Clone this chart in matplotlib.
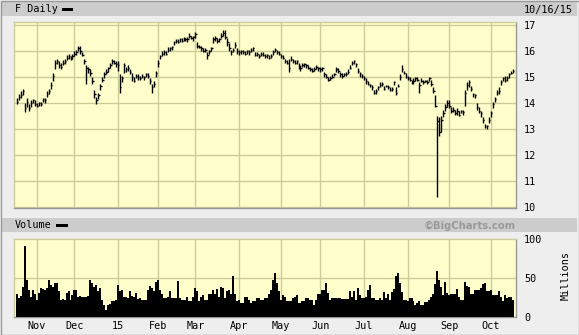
import matplotlib
matplotlib.use("Agg")
import matplotlib.pyplot as plt
import numpy as np
import pandas as pd
from matplotlib.patches import Rectangle

# ---------------- data ----------------
start_date = "2014-10-20"
end_date = "2015-10-16"
holidays = ["2014-11-27", "2014-12-25", "2015-01-01", "2015-01-19", "2015-02-16",
            "2015-04-03", "2015-05-25", "2015-07-03", "2015-09-07"]

month_labels = ["Nov", "Dec", "15", "Feb", "Mar", "Apr", "May", "Jun", "Jul", "Aug", "Sep", "Oct"]
price_ticks = [10, 11, 12, 13, 14, 15, 16, 17]
volume_ticks = [0, 50, 100]

closes = [
    14.05, 14.25, 14.30, 14.45, 13.80, 14.05, 13.80, 14.00, 14.10, 13.95,
    13.90, 14.00, 13.95, 14.15, 14.10, 14.35, 14.45, 14.70, 15.05, 15.55, 15.60, 15.45, 15.40, 15.55, 15.60, 15.75, 15.80, 15.70, 15.80,
    15.90, 15.95, 16.10, 16.00, 15.85, 15.60, 15.35, 15.30, 15.15, 14.85, 14.35, 14.10, 14.30, 14.65, 14.90, 15.10, 15.20, 15.35, 15.45, 15.60, 15.55, 15.50,
    15.45, 14.60, 14.95, 15.45, 15.30, 15.35, 15.20, 15.00, 14.85, 15.05, 15.00, 14.95, 15.05, 15.00, 15.10, 15.05, 14.85, 14.60, 14.75, 15.15,
    15.55, 15.80, 15.90, 15.95, 15.90, 16.05, 16.10, 16.15, 16.35, 16.40, 16.35, 16.45, 16.40, 16.50, 16.45, 16.45, 16.60, 16.50, 16.55,
    16.65, 16.20, 16.15, 16.10, 16.00, 16.05, 15.85, 16.00, 16.10, 16.45, 16.50, 16.40, 16.45, 16.60, 16.70, 16.55, 16.35, 16.10, 15.95, 16.05, 16.25, 16.00,
    15.95, 16.00, 15.95, 15.90, 16.00, 15.95, 16.05, 16.10, 15.85, 15.90, 15.80, 15.90, 15.85, 15.80, 15.85, 15.75, 15.80, 15.95, 16.05, 15.95, 15.90,
    15.80, 15.75, 15.60, 15.55, 15.35, 15.70, 15.60, 15.55, 15.60, 15.40, 15.35, 15.45, 15.50, 15.45, 15.35, 15.30, 15.25, 15.30, 15.40, 15.35,
    15.30, 15.35, 15.10, 15.00, 14.90, 14.95, 15.00, 15.10, 15.30, 15.25, 15.10, 15.05, 15.10, 15.10, 15.20, 15.35, 15.55, 15.60, 15.50, 15.25, 15.10, 15.05,
    14.95, 14.85, 14.75, 14.70, 14.60, 14.40, 14.45, 14.60, 14.70, 14.75, 14.55, 14.65, 14.60, 14.50, 14.55, 14.80, 14.40, 14.65, 15.00, 15.30, 15.15, 15.00,
    14.95, 14.90, 14.85, 14.85, 14.95, 14.90, 14.70, 14.85, 14.80, 14.85, 14.80, 14.95, 14.75, 14.45, 13.90, 13.30, 12.90, 13.35, 13.60, 13.85, 14.00,
    13.90, 13.70, 13.75, 13.60, 13.70, 13.55, 13.70, 13.65, 14.40, 14.70, 14.80, 14.55, 14.35, 14.30, 13.85, 13.70, 13.60, 13.35, 13.10, 13.10, 13.35,
    13.60, 13.95, 14.15, 14.40, 14.45, 14.80, 14.95, 14.90, 14.95, 15.10, 15.15, 15.25,
]

highs = [
    14.20, 14.35, 14.45, 14.55, 14.00, 14.20, 13.95, 14.10, 14.15, 14.10,
    14.00, 14.05, 14.05, 14.20, 14.20, 14.45, 14.55, 14.80, 15.15, 15.65, 15.70, 15.60, 15.55, 15.65, 15.70, 15.85, 15.90, 15.80, 15.90,
    16.00, 16.05, 16.20, 16.20, 15.95, 15.70, 15.45, 15.40, 15.30, 15.00, 14.50, 14.25, 14.40, 14.75, 15.00, 15.20, 15.30, 15.40, 15.55, 15.70, 15.65, 15.60,
    15.60, 15.10, 15.05, 15.55, 15.40, 15.45, 15.30, 15.15, 15.00, 15.10, 15.10, 15.05, 15.10, 15.05, 15.15, 15.15, 14.95, 14.75, 14.85, 15.25,
    15.65, 15.85, 16.00, 16.05, 16.00, 16.15, 16.15, 16.20, 16.40, 16.45, 16.45, 16.50, 16.50, 16.55, 16.50, 16.55, 16.70, 16.60, 16.60,
    16.75, 16.35, 16.25, 16.20, 16.10, 16.10, 15.95, 16.05, 16.15, 16.55, 16.60, 16.50, 16.50, 16.70, 16.80, 16.80, 16.50, 16.30, 16.05, 16.10, 16.35, 16.10,
    16.05, 16.05, 16.05, 16.00, 16.05, 16.05, 16.10, 16.15, 15.95, 15.95, 15.90, 15.95, 15.95, 15.90, 15.90, 15.85, 15.90, 16.05, 16.10, 16.05, 16.00,
    15.90, 15.85, 15.70, 15.65, 15.70, 15.80, 15.70, 15.65, 15.65, 15.55, 15.45, 15.55, 15.55, 15.50, 15.45, 15.40, 15.35, 15.40, 15.45, 15.40,
    15.40, 15.40, 15.20, 15.10, 15.00, 15.05, 15.10, 15.15, 15.40, 15.35, 15.20, 15.15, 15.15, 15.20, 15.30, 15.45, 15.60, 15.65, 15.55, 15.35, 15.20, 15.10,
    15.05, 14.95, 14.85, 14.75, 14.70, 14.50, 14.55, 14.65, 14.80, 14.80, 14.65, 14.70, 14.70, 14.60, 14.60, 14.85, 14.60, 14.75, 15.10, 15.45, 15.25, 15.15,
    15.05, 15.00, 14.90, 14.95, 15.00, 15.00, 14.80, 14.95, 14.90, 14.90, 14.90, 15.00, 14.90, 14.60, 14.30, 13.50, 13.45, 13.50, 13.75, 13.95, 14.10,
    14.10, 13.85, 13.85, 13.75, 13.80, 13.70, 13.75, 13.75, 14.50, 14.80, 14.90, 14.65, 14.40, 14.35, 14.00, 13.85, 13.70, 13.45, 13.20, 13.15, 13.45,
    13.70, 14.05, 14.25, 14.50, 14.60, 14.90, 15.00, 15.05, 15.05, 15.15, 15.25, 15.30,
]

lows = [
    13.95, 14.10, 14.20, 14.30, 13.65, 13.85, 13.70, 13.85, 14.00, 13.90,
    13.85, 13.90, 13.90, 14.05, 14.00, 14.25, 14.35, 14.55, 14.85, 15.30, 15.50, 15.35, 15.30, 15.45, 15.50, 15.65, 15.70, 15.65, 15.70,
    15.80, 15.85, 16.00, 15.90, 15.80, 15.50, 14.75, 15.15, 15.05, 14.75, 14.20, 13.95, 14.15, 14.50, 14.80, 14.95, 15.10, 15.20, 15.35, 15.50, 15.50, 15.40,
    15.25, 14.40, 14.80, 15.15, 15.20, 15.25, 15.10, 14.85, 14.80, 14.95, 14.90, 14.90, 14.95, 14.90, 15.00, 14.95, 14.75, 14.40, 14.60, 15.00,
    15.40, 15.70, 15.80, 15.85, 15.85, 15.95, 16.00, 16.05, 16.25, 16.30, 16.30, 16.35, 16.35, 16.40, 16.40, 16.35, 16.50, 16.45, 16.40,
    16.50, 16.10, 16.10, 16.00, 15.95, 15.95, 15.70, 15.90, 16.00, 16.30, 16.40, 16.30, 16.35, 16.50, 16.60, 16.45, 16.20, 16.00, 15.85, 15.95, 16.10, 15.90,
    15.85, 15.90, 15.90, 15.85, 15.90, 15.85, 15.95, 16.00, 15.80, 15.80, 15.75, 15.80, 15.80, 15.75, 15.75, 15.70, 15.75, 15.85, 15.95, 15.90, 15.85,
    15.75, 15.70, 15.55, 15.50, 15.20, 15.60, 15.55, 15.50, 15.50, 15.30, 15.25, 15.40, 15.40, 15.35, 15.30, 15.25, 15.20, 15.25, 15.30, 15.25,
    15.20, 15.25, 15.00, 14.95, 14.85, 14.90, 14.95, 15.05, 15.20, 15.15, 15.00, 14.95, 15.05, 15.05, 15.10, 15.30, 15.45, 15.50, 15.40, 15.15, 15.00, 14.95,
    14.90, 14.75, 14.70, 14.60, 14.50, 14.35, 14.35, 14.50, 14.60, 14.65, 14.50, 14.60, 14.55, 14.45, 14.45, 14.70, 14.30, 14.60, 14.90, 15.20, 15.10, 14.95,
    14.90, 14.85, 14.75, 14.75, 14.85, 14.85, 14.40, 14.80, 14.75, 14.80, 14.75, 14.85, 14.65, 14.40, 13.85, 10.40, 12.75, 12.90, 13.45, 13.70, 13.85,
    13.80, 13.60, 13.65, 13.55, 13.55, 13.50, 13.60, 13.55, 13.90, 14.50, 14.60, 14.45, 14.25, 14.20, 13.75, 13.60, 13.45, 13.25, 13.05, 13.00, 13.25,
    13.45, 13.80, 14.05, 14.30, 14.35, 14.70, 14.85, 14.80, 14.85, 14.95, 15.10, 15.15,
]

volumes = [  # millions of shares
    29, 25, 27, 39, 91, 48, 34, 26, 35, 29,
    22, 31, 37, 36, 35, 37, 48, 41, 38, 44,
    43, 33, 22, 23, 22, 31, 33, 22, 28, 35,
    34, 26, 27, 26, 26, 26, 27, 47, 44, 39,
    41, 33, 37, 22, 15, 9, 16, 17, 21, 21,
    22, 41, 33, 34, 26, 26, 24, 33, 27, 26,
    31, 23, 24, 22, 22, 22, 35, 40, 37, 33,
    45, 48, 35, 29, 25, 25, 26, 33, 24, 24,
    24, 46, 24, 22, 22, 22, 26, 20, 20, 26,
    37, 33, 20, 26, 28, 22, 22, 30, 30, 35,
    30, 36, 26, 39, 37, 24, 33, 35, 29, 53,
    30, 20, 22, 18, 18, 26, 26, 22, 18, 20,
    20, 24, 24, 22, 22, 24, 24, 29, 35, 48,
    56, 44, 33, 22, 28, 26, 20, 21, 20, 24,
    26, 28, 18, 18, 21, 21, 25, 25, 22, 22,
    16, 22, 29, 29, 35, 35, 44, 31, 22, 24,
    24, 24, 24, 24, 23, 23, 23, 23, 33, 26,
    33, 22, 37, 28, 24, 24, 26, 35, 41, 24,
    24, 22, 22, 25, 22, 32, 24, 30, 22, 32,
    36, 52, 56, 43, 32, 22, 22, 20, 25, 25,
    20, 15, 18, 20, 16, 16, 19, 19, 22, 26,
    30, 42, 59, 48, 38, 28, 45, 31, 28, 30,
    29, 29, 36, 26, 22, 22, 45, 40, 39, 30,
    30, 35, 35, 35, 37, 42, 43, 33, 33, 35,
    28, 28, 28, 33, 26, 20, 28, 24, 26, 26, 22,
]

# ---------------- derived axis positions ----------------
days = pd.bdate_range(start_date, end_date)
days = days[~days.isin(pd.to_datetime(holidays))]
x = np.arange(len(days))
month_starts = [i for i in range(1, len(days)) if days[i].month != days[i - 1].month]

W, H = 579, 335
BG = "#eeeeee"
BAND = "#cccccc"
PLOT_BG = "#ffffcc"
GRID = "#cccc99"
MONO = "DejaVu Sans Mono"
FS = 7.3

fig = plt.figure(figsize=(W / 100, H / 100), dpi=100, facecolor=BG)


def fx(px):
    return px / W


def fy(py):
    return 1 - py / H


def frect(x0, y0, x1, y1, **kw):
    fig.patches.append(Rectangle((fx(x0), fy(y1)), fx(x1) - fx(x0), fy(y0) - fy(y1),
                                 transform=fig.transFigure, **kw))


# header bands
frect(2, 1, 577, 16, facecolor=BAND, edgecolor="none")
frect(2, 218, 577, 232, facecolor=BAND, edgecolor="none")
# outer frame
frect(0.5, 0.5, 578.5, 334.5, facecolor="none", edgecolor="#999999", lw=1)

fig.text(fx(15), fy(9.5), "F Daily", family=MONO, fontsize=FS, va="center", ha="left")
frect(62, 8, 73, 11, facecolor="black", edgecolor="none")
fig.text(fx(524), fy(9.5), "10/16/15", family=MONO, fontsize=FS, va="center", ha="left")
fig.text(fx(15), fy(225.5), "Volume", family=MONO, fontsize=FS, va="center", ha="left")
frect(56, 224, 68, 227, facecolor="black", edgecolor="none")
fig.text(fx(515.5), fy(225.5), "\u00a9BigCharts.com", family="DejaVu Sans", fontweight="bold",
         fontsize=7.2, color="#999999", va="center", ha="right")
fig.text(fx(566), fy(275), "Millions", family=MONO, fontsize=FS, rotation=90,
         va="center", ha="center")

x_left, x_right = 14, 515.6
xlim = (-1.5, 251.5)


def style_axes(ax):
    ax.set_facecolor(PLOT_BG)
    for s in ("top", "left"):
        ax.spines[s].set_color(GRID)
        ax.spines[s].set_linewidth(1)
    for s in ("right", "bottom"):
        ax.spines[s].set_color("#999999")
        ax.spines[s].set_linewidth(1)
    ax.set_xlim(*xlim)
    ax.tick_params(length=0)
    for m in month_starts:
        ax.axvline(m, color=GRID, lw=1, zorder=1)


# price panel
ax = fig.add_axes([fx(x_left), fy(208), fx(x_right) - fx(x_left), fy(22) - fy(208)])
style_axes(ax)
ax.set_ylim(9.96, 17.12)
for p in price_ticks:
    ax.axhline(p, color=GRID, lw=1, zorder=1)
ax.vlines(x, lows, highs, color="black", lw=1.0, zorder=3)
ax.hlines(closes, x, x + 0.7, color="black", lw=1.0, zorder=3)
ax.yaxis.tick_right()
ax.set_yticks(price_ticks)
ax.set_yticklabels([str(p) for p in price_ticks], family=MONO, fontsize=FS)
ax.tick_params(axis="y", pad=6)
ax.set_xticks([])

# volume panel
av = fig.add_axes([fx(x_left), fy(317), fx(x_right) - fx(x_left), fy(239) - fy(317)])
style_axes(av)
av.set_ylim(0, 100)
av.axhline(50, color=GRID, lw=1, zorder=1)
av.bar(x, volumes, width=1.0, color="black", linewidth=0, zorder=3)
av.yaxis.tick_right()
av.set_yticks(volume_ticks)
av.set_yticklabels([str(v) for v in volume_ticks], family=MONO, fontsize=FS)
av.tick_params(axis="y", pad=6)
av.set_xticks(month_starts)
av.set_xticklabels(month_labels, family=MONO, fontsize=FS)
av.tick_params(axis="x", pad=3)

fig.savefig("out.png", dpi=100, facecolor=BG)
